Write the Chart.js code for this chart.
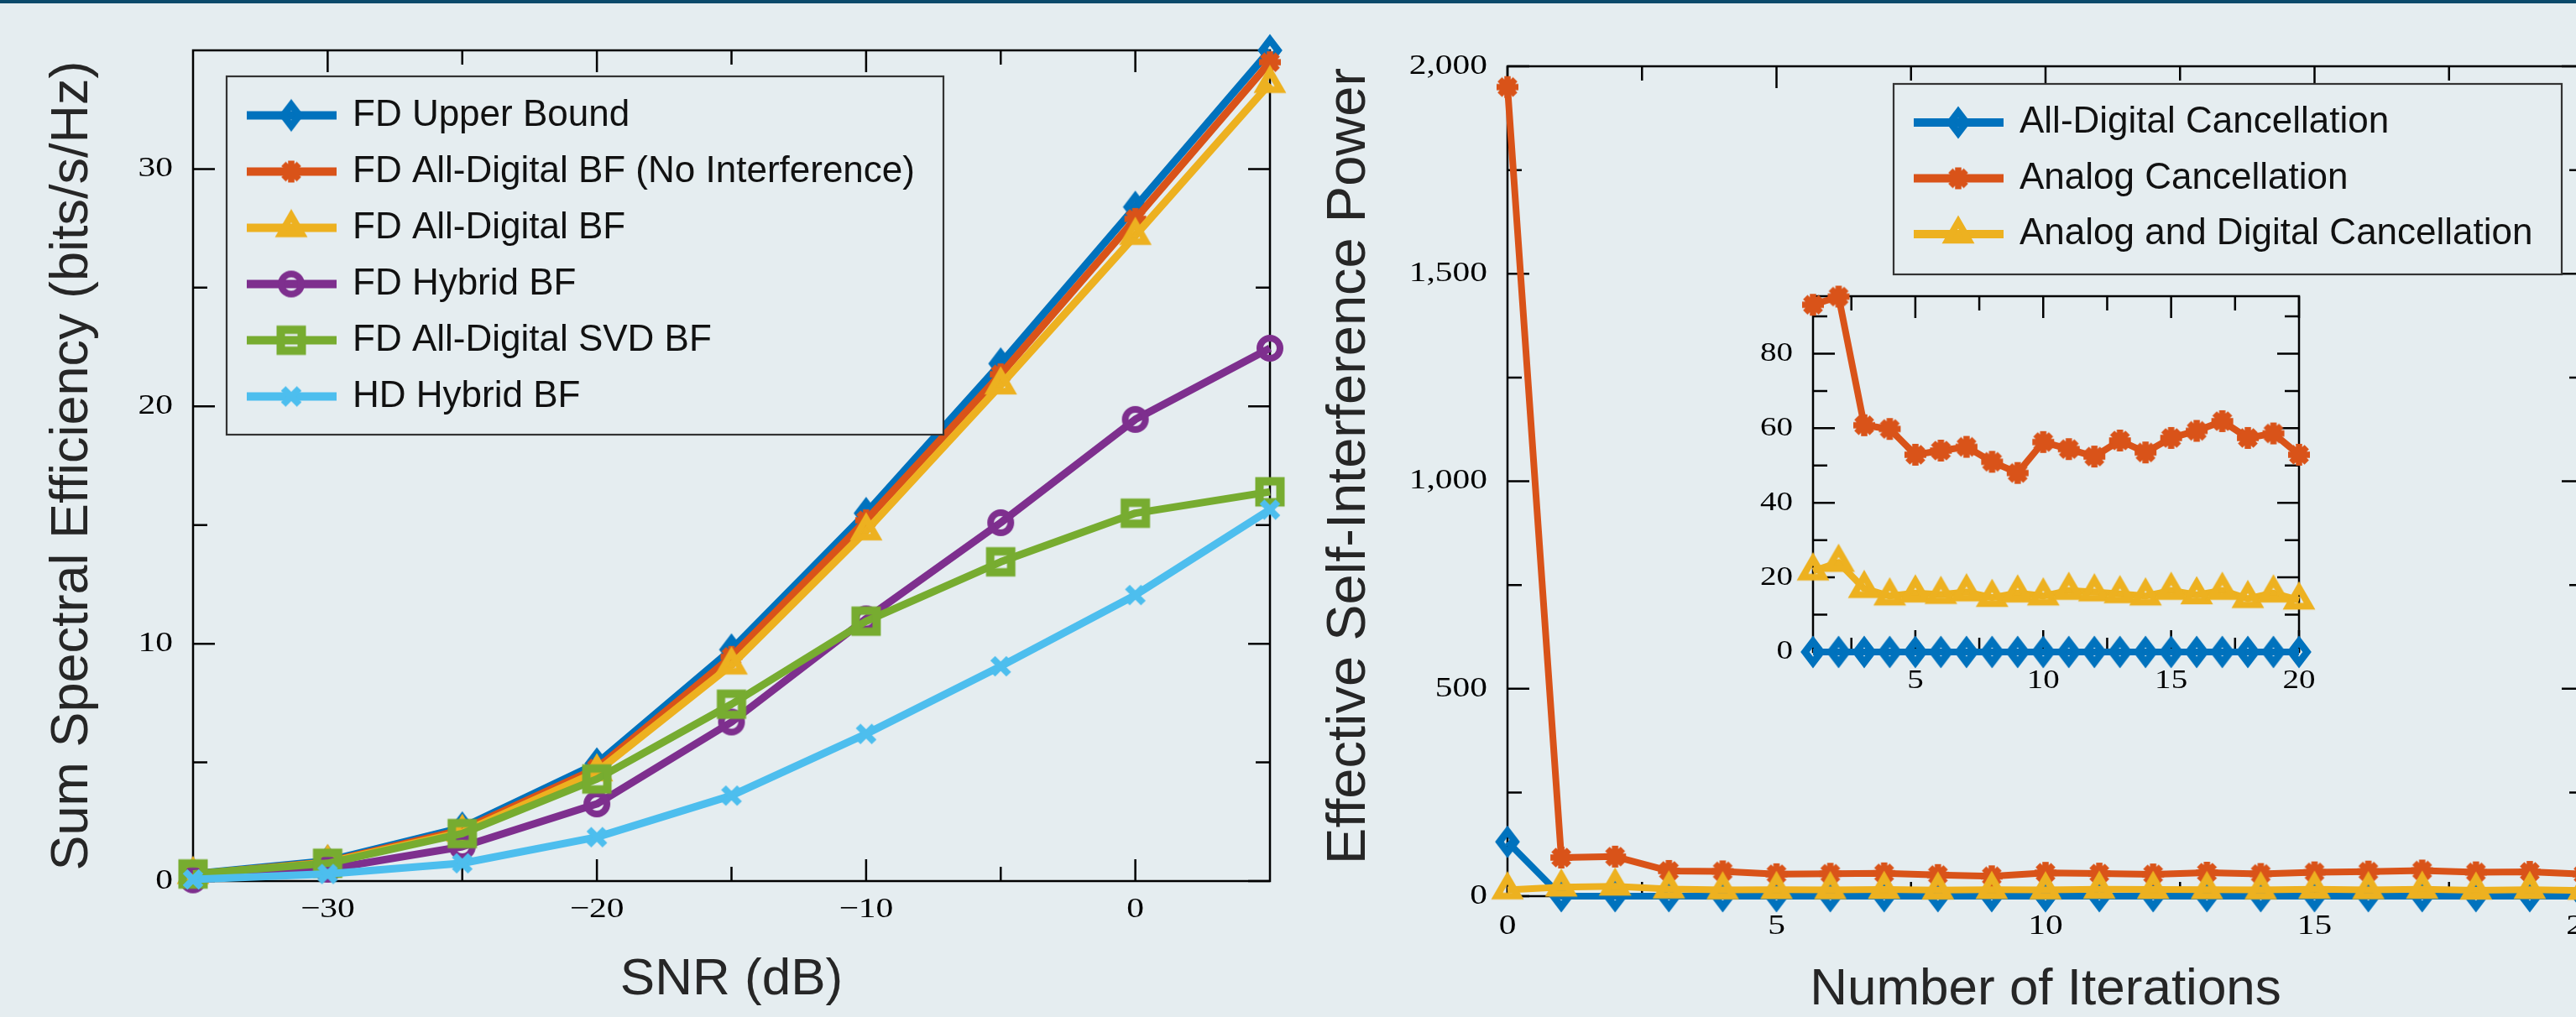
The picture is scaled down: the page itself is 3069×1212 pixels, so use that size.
<!DOCTYPE html>
<html>
<head>
<meta charset="utf-8">
<script src="https://cdn.jsdelivr.net/npm/chart.js@4.4.0/dist/chart.umd.min.js"></script>
<style>
  html, body { margin: 0; padding: 0; background: #e5edf0; overflow: hidden; width: 3069px; height: 1212px; }
  #topbar { position: absolute; left: 0; top: 0; width: 3069px; height: 4px; background: #0b4a6b; z-index: 5; }
  canvas { position: absolute; top: 0; }
  #left-chart { left: 0; }
  #right-chart { left: 1560px; }
  #inset-chart { left: 2060px; top: 330px; }
</style>
</head>
<body>
<div id="topbar"></div>
<canvas id="left-chart" width="1560" height="1212"></canvas>
<canvas id="right-chart" width="1540" height="1212"></canvas>
<canvas id="inset-chart" width="740" height="510"></canvas>
<script>
// ---- left panel: sum spectral efficiency vs SNR ----
var snr_db = [-35, -30, -25, -20, -15, -10, -5, 0, 5];
var fd_upper_bound = [0.3, 0.85, 2.25, 4.95, 9.75, 15.5, 21.8, 28.4, 35.0];
var fd_digital_noint = [0.28, 0.8, 2.15, 4.75, 9.45, 15.2, 21.35, 27.9, 34.5];
var fd_digital = [0.27, 0.78, 2.05, 4.6, 9.1, 14.75, 20.9, 27.2, 33.6];
var fd_hybrid = [0.05, 0.5, 1.45, 3.25, 6.7, 11.05, 15.1, 19.45, 22.45];
var fd_digital_svd = [0.3, 0.75, 2.0, 4.3, 7.45, 10.95, 13.45, 15.5, 16.4];
var hd_hybrid = [0.07, 0.3, 0.75, 1.85, 3.6, 6.2, 9.05, 12.05, 15.65];
var left_names = ['FD Upper Bound', 'FD All-Digital BF (No Interference)', 'FD All-Digital BF',
                  'FD Hybrid BF', 'FD All-Digital SVD BF', 'HD Hybrid BF'];

var left_x_ticks = [-30, -20, -10, 0];
var left_x_labels = ['\u221230', '\u221220', '\u221210', '0'];
var left_x_minor = [-25, -15, -5];
var left_y_ticks = [0, 10, 20, 30];
var left_y_labels = ['0', '10', '20', '30'];
var left_y_minor = [5, 15, 25];

// ---- right panel: self-interference power vs iterations ----
var iterations = [0, 1, 2, 3, 4, 5, 6, 7, 8, 9, 10, 11, 12, 13, 14, 15, 16, 17, 18, 19, 20];
var all_digital_cancel = [131, 0, 0, 0, 0, 0, 0, 0, 0, 0, 0, 0, 0, 0, 0, 0, 0, 0, 0, 0, 0];
var analog_cancel = [1950, 93.1, 95.3, 60.8, 59.8, 52.9, 54.0, 55.0, 51.0, 48.0, 56.3,
                     54.4, 52.4, 56.7, 53.5, 57.4, 59.3, 61.9, 57.4, 58.6, 52.9];
var analog_digital_cancel = [15, 21.7, 24.0, 17.0, 15.0, 15.8, 15.4, 16.1, 14.6, 15.8, 15.0,
                             16.5, 16.1, 15.6, 15.0, 16.5, 15.3, 16.5, 14.3, 15.8, 13.9];
var right_names = ['All-Digital Cancellation', 'Analog Cancellation', 'Analog and Digital Cancellation'];

var right_x_ticks = [0, 5, 10, 15, 20];
var right_x_labels = ['0', '5', '10', '15', '20'];
var right_x_minor = [2.5, 7.5, 12.5, 17.5];
var right_y_ticks = [0, 500, 1000, 1500, 2000];
var right_y_labels = ['0', '500', '1,000', '1,500', '2,000'];
var right_y_minor = [250, 750, 1250, 1750];

// inset zooms on iterations 1..20
var inset_x_ticks = [5, 10, 15, 20];
var inset_x_labels = ['5', '10', '15', '20'];
var inset_x_minor = [2.5, 7.5, 12.5, 17.5];
var inset_y_ticks = [0, 20, 40, 60, 80];
var inset_y_labels = ['0', '20', '40', '60', '80'];
var inset_y_minor = [10, 30, 50, 70, 90];
var inset_y_max = 95.4;

var page_bg = '#e5edf0';
var c_blue = '#0072BD', c_orange = '#D95319', c_yellow = '#EDB120',
    c_purple = '#7E2F8E', c_green = '#77AC30', c_cyan = '#4DBEEE';

// matlab-ish hollow markers with thick edges
function makeMarker(shape, color) {
    var c = document.createElement('canvas');
    c.width = 48; c.height = 48;
    var g = c.getContext('2d');
    g.translate(24, 24);
    g.strokeStyle = color;
    g.lineJoin = 'miter';
    g.lineCap = 'butt';
    g.beginPath();
    if (shape === 'diamond') {
        g.lineWidth = 8.5;
        g.moveTo(0, -12.5); g.lineTo(9.5, 0); g.lineTo(0, 12.5); g.lineTo(-9.5, 0); g.closePath();
    } else if (shape === 'star') {
        g.lineWidth = 7.5;
        for (var k = 0; k < 4; k++) {
            var t = k * Math.PI / 4;
            g.moveTo(-13 * Math.cos(t), -13 * Math.sin(t));
            g.lineTo(13 * Math.cos(t), 13 * Math.sin(t));
        }
    } else if (shape === 'triangle') {
        g.lineWidth = 8;
        g.moveTo(0, -14.5); g.lineTo(12.56, 7.25); g.lineTo(-12.56, 7.25); g.closePath();
    } else if (shape === 'circle') {
        g.lineWidth = 8;
        g.arc(0, 0, 12, 0, Math.PI * 2);
    } else if (shape === 'square') {
        g.lineWidth = 10;
        g.rect(-12.5, -12.5, 25, 25);
    } else if (shape === 'cross') {
        g.lineWidth = 8;
        g.moveTo(-9.5, -9.5); g.lineTo(9.5, 9.5);
        g.moveTo(-9.5, 9.5); g.lineTo(9.5, -9.5);
    }
    g.stroke();
    return c;
}

var m_diamond = makeMarker('diamond', c_blue);
var m_star = makeMarker('star', c_orange);
var m_triangle = makeMarker('triangle', c_yellow);
var m_circle = makeMarker('circle', c_purple);
var m_square = makeMarker('square', c_green);
var m_cross = makeMarker('cross', c_cyan);

function series(label, xs, ys, color, marker, width, order) {
    return {
        label: label,
        data: xs.map(function (x, i) { return { x: x, y: ys[i] }; }),
        borderColor: color,
        backgroundColor: color,
        borderWidth: width,
        borderJoinStyle: 'round',
        pointStyle: marker,
        pointRadius: 14,
        pointHoverRadius: 14,
        tension: 0,
        clip: false,
        order: order
    };
}

function stretchedText(ctx, text, x, y, align) {
    ctx.save();
    ctx.translate(x, y);
    ctx.scale(1.22, 1);
    ctx.textAlign = align;
    ctx.fillText(text, 0, 0);
    ctx.restore();
}

// box, inward ticks on all four sides, tick labels
function framePlugin(cfg) {
    return {
        id: 'frame',
        beforeDatasetsDraw: function (chart) {
            var ctx = chart.ctx, a = chart.chartArea;
            var xs = chart.scales.x, ys = chart.scales.y;
            ctx.save();
            ctx.strokeStyle = '#000';
            ctx.lineWidth = 2.5;
            ctx.strokeRect(a.left, a.top, a.right - a.left, a.bottom - a.top);
            ctx.beginPath();
            function xt(v, len) {
                var px = xs.getPixelForValue(v);
                ctx.moveTo(px, a.bottom); ctx.lineTo(px, a.bottom - len);
                ctx.moveTo(px, a.top); ctx.lineTo(px, a.top + len);
            }
            function yt(v, len) {
                var py = ys.getPixelForValue(v);
                ctx.moveTo(a.left, py); ctx.lineTo(a.left + len, py);
                ctx.moveTo(a.right, py); ctx.lineTo(a.right - len, py);
            }
            cfg.xTicks.forEach(function (v) { xt(v, 26); });
            cfg.xMinor.forEach(function (v) { xt(v, 17); });
            cfg.yTicks.forEach(function (v) { yt(v, 26); });
            cfg.yMinor.forEach(function (v) { yt(v, 17); });
            ctx.stroke();

            ctx.fillStyle = '#000';
            ctx.font = cfg.fontSize + 'px "Liberation Serif"';
            ctx.textBaseline = 'middle';
            cfg.xTicks.forEach(function (v, i) {
                stretchedText(ctx, cfg.xLabels[i], xs.getPixelForValue(v), a.bottom + cfg.xGap, 'center');
            });
            cfg.yTicks.forEach(function (v, i) {
                stretchedText(ctx, cfg.yLabels[i], a.left - 24, ys.getPixelForValue(v), 'right');
            });
            ctx.restore();
        }
    };
}

// legend with line + marker samples inside a framed box
function boxLegendPlugin(cfg) {
    return {
        id: 'boxlegend',
        afterDraw: function (chart) {
            var ctx = chart.ctx, a = chart.chartArea;
            var x0 = a.left + cfg.dx, y0 = a.top + cfg.dy;
            ctx.save();
            ctx.fillStyle = page_bg;
            ctx.fillRect(x0, y0, cfg.w, cfg.h);
            ctx.strokeStyle = '#333';
            ctx.lineWidth = 2.2;
            ctx.strokeRect(x0, y0, cfg.w, cfg.h);
            ctx.font = '44px "Liberation Sans"';
            ctx.textBaseline = 'alphabetic';
            chart.data.datasets.forEach(function (ds, i) {
                var yy = y0 + cfg.first + i * cfg.step;
                ctx.strokeStyle = ds.borderColor;
                ctx.lineWidth = 10;
                ctx.beginPath();
                ctx.moveTo(x0 + 24, yy);
                ctx.lineTo(x0 + 131, yy);
                ctx.stroke();
                var m = ds.pointStyle;
                ctx.drawImage(m, x0 + 77 - m.width / 2, yy - m.height / 2);
                ctx.fillStyle = '#111';
                ctx.fillText(ds.label, x0 + 150, yy + 12);
            });
            ctx.restore();
        }
    };
}

function buildChart(id, opt) {
    var tf = { family: 'Liberation Sans', size: opt.titleSize || 62, lineHeight: 1 };
    var tfy = { family: 'Liberation Sans', size: opt.yTitleSize || 62, lineHeight: 1 };
    return new Chart(document.getElementById(id), {
        type: 'line',
        data: { datasets: opt.datasets },
        options: {
            responsive: false,
            animation: false,
            devicePixelRatio: 1,
            events: [],
            layout: { padding: opt.padding },
            scales: {
                x: {
                    type: 'linear', min: opt.xMin, max: opt.xMax,
                    grid: { display: false, drawTicks: false },
                    border: { display: false },
                    ticks: { display: false },
                    title: opt.xTitle ? {
                        display: true, text: opt.xTitle, color: '#262626', font: tf,
                        padding: { top: 0, bottom: opt.xTitlePad }
                    } : { display: false },
                    afterFit: function (s) { s.height = opt.xAxisH; }
                },
                y: {
                    type: 'linear', min: opt.yMin, max: opt.yMax,
                    grid: { display: false, drawTicks: false },
                    border: { display: false },
                    ticks: { display: false },
                    title: opt.yTitle ? {
                        display: true, text: opt.yTitle, color: '#262626', font: tfy,
                        padding: { top: opt.yTitlePad, bottom: 0 }
                    } : { display: false },
                    afterFit: function (s) { s.width = opt.yAxisW; }
                }
            },
            plugins: { legend: { display: false }, tooltip: { enabled: false } }
        },
        plugins: opt.plugins
    });
}

buildChart('left-chart', {
    datasets: [
        series(left_names[0], snr_db, fd_upper_bound, c_blue, m_diamond, 9, 5),
        series(left_names[1], snr_db, fd_digital_noint, c_orange, m_star, 9, 4),
        series(left_names[2], snr_db, fd_digital, c_yellow, m_triangle, 9, 3),
        series(left_names[3], snr_db, fd_hybrid, c_purple, m_circle, 9, 2),
        series(left_names[4], snr_db, fd_digital_svd, c_green, m_square, 9, 1),
        series(left_names[5], snr_db, hd_hybrid, c_cyan, m_cross, 9, 0)
    ],
    padding: { left: 0, top: 60, right: 47, bottom: 0 },
    xMin: -35, xMax: 5, yMin: 0, yMax: 35,
    xAxisH: 162, yAxisW: 230,
    xTitle: 'SNR (dB)', xTitlePad: 13.5,
    yTitle: 'Sum Spectral Efficiency (bits/s/Hz)', yTitlePad: 55, yTitleSize: 63,
    plugins: [
        framePlugin({ xTicks: left_x_ticks, xLabels: left_x_labels, xMinor: left_x_minor,
                      yTicks: left_y_ticks, yLabels: left_y_labels, yMinor: left_y_minor,
                      fontSize: 34, xGap: 34 }),
        boxLegendPlugin({ dx: 40, dy: 31, w: 854, h: 427, first: 46.5, step: 67 })
    ]
});

buildChart('right-chart', {
    datasets: [
        series(right_names[0], iterations, all_digital_cancel, c_blue, m_diamond, 8, 2),
        series(right_names[1], iterations, analog_cancel, c_orange, m_star, 8, 1),
        series(right_names[2], iterations, analog_digital_cancel, c_yellow, m_triangle, 8, 0)
    ],
    padding: { left: 0, top: 79, right: 22, bottom: 0 },
    xMin: 0, xMax: 20, yMin: 0, yMax: 2000,
    xAxisH: 144, yAxisW: 236,
    xTitle: 'Number of Iterations', xTitlePad: 1.5,
    // two leading spaces nudge the rotated title up to where the reference sits
    yTitle: '  Effective Self-Interference Power', yTitlePad: 16, yTitleSize: 65,
    plugins: [
        framePlugin({ xTicks: right_x_ticks, xLabels: right_x_labels, xMinor: right_x_minor,
                      yTicks: right_y_ticks, yLabels: right_y_labels, yMinor: right_y_minor,
                      fontSize: 34, xGap: 36 }),
        boxLegendPlugin({ dx: 460, dy: 21, w: 796, h: 227, first: 46, step: 66.5 })
    ]
});

buildChart('inset-chart', {
    datasets: [
        series(right_names[0], iterations.slice(1), all_digital_cancel.slice(1), c_blue, m_diamond, 8, 2),
        series(right_names[1], iterations.slice(1), analog_cancel.slice(1), c_orange, m_star, 8, 1),
        series(right_names[2], iterations.slice(1), analog_digital_cancel.slice(1), c_yellow, m_triangle, 8, 0)
    ],
    padding: { left: 0, top: 23, right: 61, bottom: 0 },
    xMin: 1, xMax: 20, yMin: 0, yMax: inset_y_max,
    xAxisH: 63, yAxisW: 100,
    plugins: [
        framePlugin({ xTicks: inset_x_ticks, xLabels: inset_x_labels, xMinor: inset_x_minor,
                      yTicks: inset_y_ticks, yLabels: inset_y_labels, yMinor: inset_y_minor,
                      fontSize: 32, xGap: 35 })
    ]
});
</script>
</body>
</html>
